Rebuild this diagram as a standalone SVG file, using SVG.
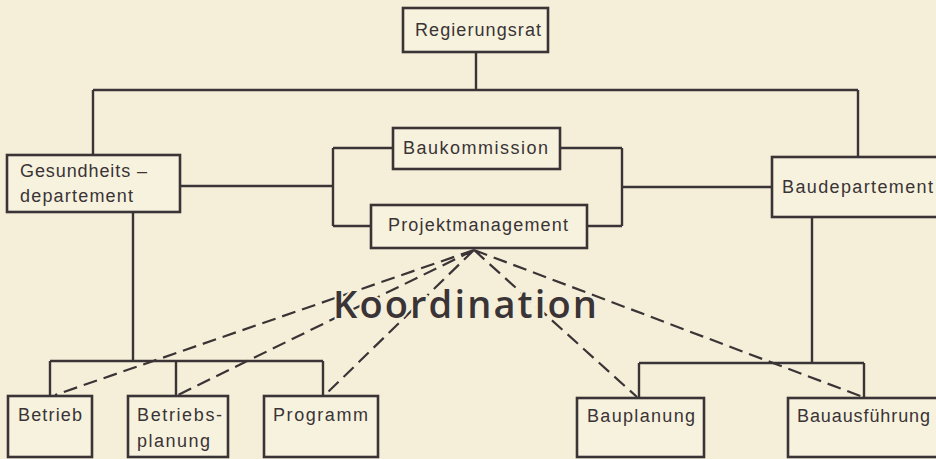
<svg xmlns="http://www.w3.org/2000/svg" width="936" height="459" viewBox="0 0 936 459">
<style>
.bg{fill:#f5efd9}
.box{fill:#f7f2de;stroke:#3a3436;stroke-width:2.6}
.ln{fill:none;stroke:#3a3436;stroke-width:2.4}
.dash{fill:none;stroke:#3a3436;stroke-width:2.2;stroke-dasharray:14 7}
.t{font-family:"Liberation Sans",Arial,sans-serif;font-size:18px;fill:#3a3436}
.k{font-family:"Open Sans","DejaVu Sans",sans-serif;font-weight:600;font-size:38px;fill:#3a3436;stroke:#f5efd9;stroke-width:4;paint-order:stroke}
</style>
<rect class="bg" x="0" y="0" width="936" height="459"/>
<g id="connectors">
<path class="ln" d="M476 52 V90 M93 90 H858 M93 90 V155 M858 90 V157"/>
<path class="ln" d="M180 186 H333 M333 148 V226 M333 148 H393 M333 226 H371"/>
<path class="ln" d="M560 148 H622 M622 148 V226 M587 226 H622 M622 187 H772"/>
<path class="ln" d="M133 212 V361 M50 361 H323 M50 361 V396 M176 361 V396 M323 361 V396"/>
<path class="ln" d="M812 217 V363 M639 363 H864 M639 363 V398 M864 363 V398"/>
<path class="dash" d="M474 250 L55 395 M474 250 L178 395 M474 250 L325 395 M474 250 L637 397 M474 250 L863 397"/>
</g>
<g id="regierungsrat"><rect class="box" x="403" y="8" width="145" height="44"/><text class="t" x="415" y="36" textLength="126">Regierungsrat</text></g>
<g id="gesundheitsdepartement"><rect class="box" x="7" y="155" width="173" height="57"/><text class="t" x="20" y="177" textLength="127">Gesundheits –</text><text class="t" x="20" y="202" textLength="113">departement</text></g>
<g id="baukommission"><rect class="box" x="393" y="128" width="167" height="41"/><text class="t" x="403" y="154" textLength="145">Baukommission</text></g>
<g id="projektmanagement"><rect class="box" x="371" y="205" width="216" height="43"/><text class="t" x="388" y="231" textLength="180">Projektmanagement</text></g>
<g id="baudepartement"><rect class="box" x="772" y="157" width="180" height="60"/><text class="t" x="782" y="193" textLength="151">Baudepartement</text></g>
<g id="betrieb"><rect class="box" x="8" y="396" width="84" height="61"/><text class="t" x="18" y="421" textLength="64">Betrieb</text></g>
<g id="betriebsplanung"><rect class="box" x="128" y="396" width="100" height="61"/><text class="t" x="137" y="421" textLength="85">Betriebs-</text><text class="t" x="137" y="447" textLength="73">planung</text></g>
<g id="programm"><rect class="box" x="264" y="396" width="114" height="61"/><text class="t" x="273" y="421" textLength="95">Programm</text></g>
<g id="bauplanung"><rect class="box" x="577" y="398" width="127" height="59"/><text class="t" x="587" y="422" textLength="108">Bauplanung</text></g>
<g id="bauausfuehrung"><rect class="box" x="788" y="398" width="160" height="59"/><text class="t" x="797" y="422" textLength="133">Bauausführung</text></g>
<text class="k" x="333" y="318" textLength="264" lengthAdjust="spacing">Koordination</text>
</svg>
